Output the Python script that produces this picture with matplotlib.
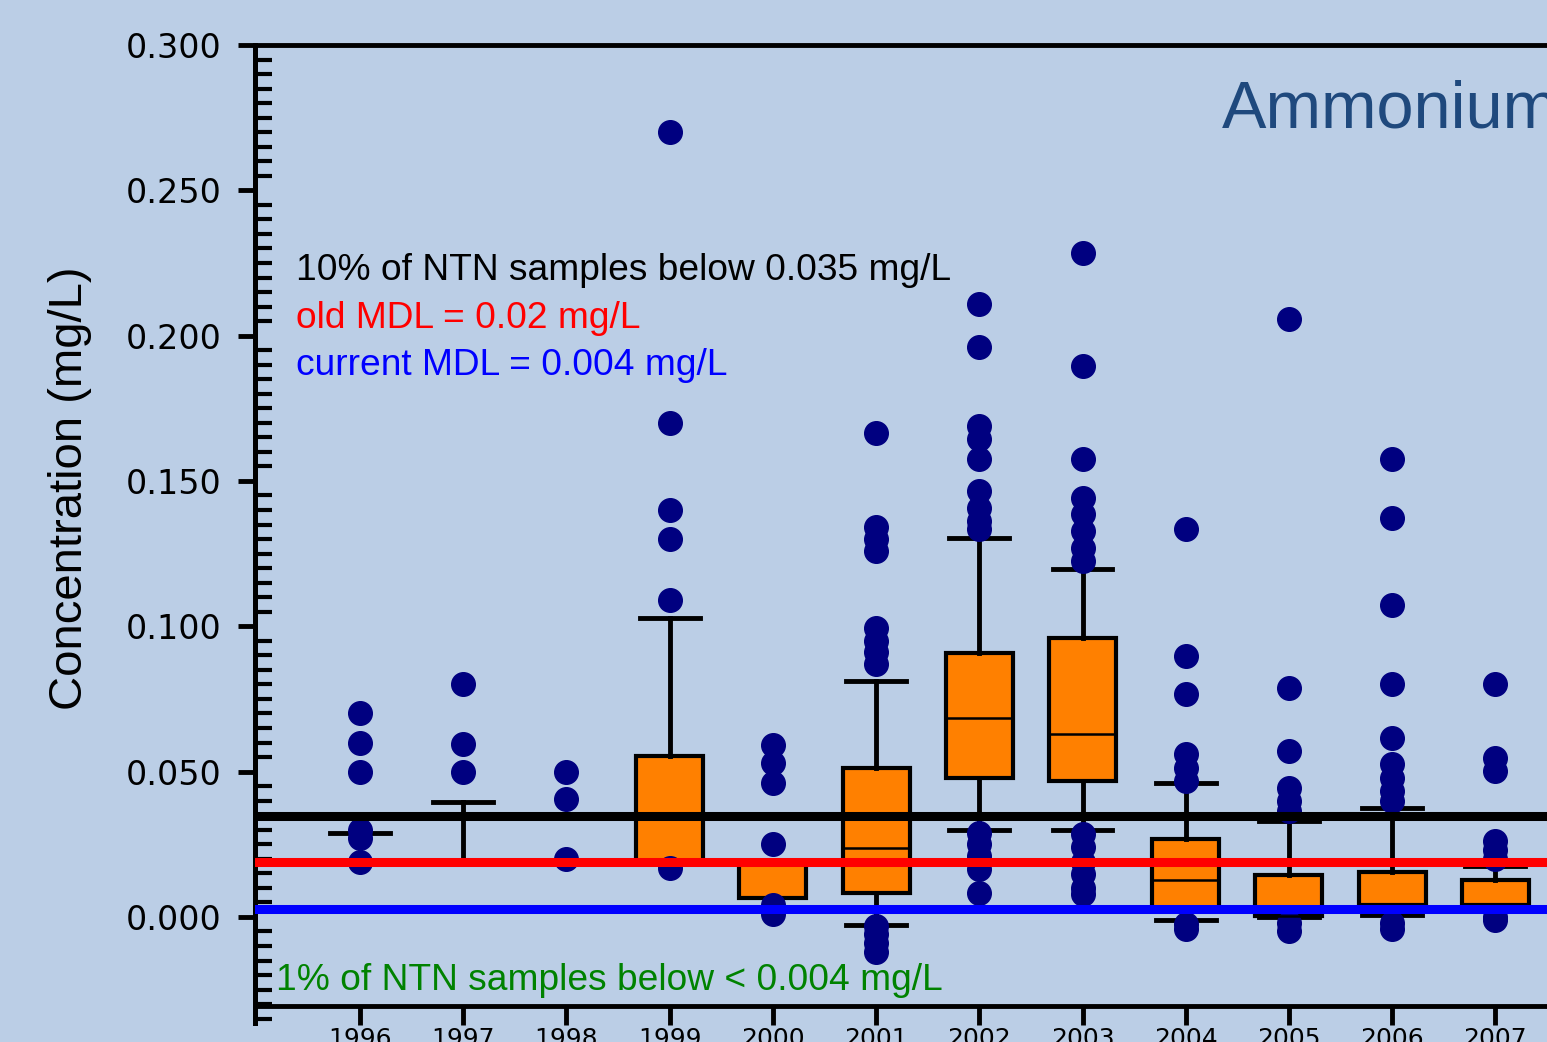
import matplotlib
matplotlib.use('Agg')
import matplotlib.pyplot as plt
from matplotlib.ticker import MultipleLocator, FormatStrFormatter


years = [1996, 1997, 1998, 1999, 2000, 2001, 2002, 2003, 2004, 2005, 2006, 2007]
q1 = [0.019, 0.019, 0.019, 0.019, 0.0065, 0.0083, 0.0478, 0.0468, 0.003, 0.0003, 0.004, 0.004]
med = [0.019, 0.019, 0.019, 0.019, 0.019, 0.0237, 0.0685, 0.063, 0.0127, 0.0003, 0.004, 0.004]
q3 = [0.019, 0.019, 0.019, 0.0554, 0.019, 0.0513, 0.0908, 0.096, 0.0268, 0.0145, 0.0155, 0.0127]
whislo = [0.019, 0.019, 0.019, 0.019, 0.003, -0.0028, 0.030, 0.030, -0.001, 0.0, 0.0007, 0.004]
whishi = [0.029, 0.0396, 0.019, 0.103, 0.019, 0.0812, 0.1304, 0.1198, 0.0461, 0.033, 0.0375, 0.0175]
outliers = [
    [0.070, 0.060, 0.050, 0.030, 0.027, 0.019],
    [0.080, 0.0596, 0.050],
    [0.050, 0.0405, 0.020],
    [0.270, 0.170, 0.140, 0.130, 0.109, 0.017],
    [0.059, 0.053, 0.046, 0.025, 0.004, 0.001],
    [0.1666, 0.134, 0.130, 0.126, 0.0995, 0.095, 0.091, 0.087, -0.003, -0.006, -0.009, -0.012],
    [0.211, 0.196, 0.169, 0.1645, 0.1576, 0.1466, 0.1407, 0.1363, 0.1335,
     0.029, 0.025, 0.021, 0.0165, 0.0083],
    [0.2285, 0.1896, 0.1576, 0.1442, 0.1387, 0.1328, 0.127, 0.1225,
     0.0286, 0.024, 0.019, 0.0148, 0.010, 0.008],
    [0.1335, 0.0898, 0.0767, 0.056, 0.0513, 0.0468, -0.0025, -0.004],
    [0.2058, 0.0788, 0.0571, 0.0444, 0.040, 0.0365, -0.002, -0.005],
    [0.1576, 0.1373, 0.1074, 0.080, 0.0616, 0.0526, 0.0478, 0.0434, 0.040, -0.002, -0.004],
    [0.080, 0.0547, 0.0502, 0.026, 0.023, 0.020, 0.0, -0.001],
]

ntn_10pct = 0.0346
old_mdl = 0.0188
current_mdl = 0.0028

BG = '#BBCEE6'
W, H = 1547, 1042


def main():
    fig = plt.figure(figsize=(W / 100, H / 100), dpi=100, facecolor=BG)
    ax = fig.add_axes([255 / W, 1 - 1023 / H, 1 - 255 / W, 978 / H])
    ax.set_facecolor(BG)

    stats = []
    for i in range(len(years)):
        stats.append(dict(med=med[i], q1=q1[i], q3=q3[i],
                          whislo=whislo[i], whishi=whishi[i], fliers=outliers[i]))

    ax.bxp(stats, positions=years, widths=0.65, capwidths=0.58, patch_artist=True,
           boxprops=dict(facecolor='#FF8000', edgecolor='black', linewidth=3),
           medianprops=dict(color='black', linewidth=1.8),
           whiskerprops=dict(color='black', linewidth=3.5),
           capprops=dict(color='black', linewidth=3.5),
           flierprops=dict(marker='o', markersize=17, markerfacecolor='#000080',
                           markeredgecolor='#000080', linestyle='none'))

    # reference lines on top of boxes and points
    ax.axhline(ntn_10pct, color='black', lw=6.5, zorder=6)
    ax.axhline(old_mdl, color='#FF0000', lw=6.5, zorder=6)
    ax.axhline(current_mdl, color='#0000FF', lw=6.5, zorder=6)

    ax.set_xlim(1994.983, 2007.5)
    ax.set_ylim(-0.0365, 0.300)
    ax.set_xticks(years)
    ax.set_xticklabels([str(y) for y in years], family='DejaVu Sans')
    ax.yaxis.set_major_locator(MultipleLocator(0.05))
    ax.yaxis.set_minor_locator(MultipleLocator(0.005))
    ax.yaxis.set_major_formatter(FormatStrFormatter('%.3f'))
    for lab in ax.get_yticklabels():
        lab.set_family('DejaVu Sans')

    ax.tick_params(axis='y', which='major', direction='out', length=12, width=3.5,
                   labelsize=24, pad=12)
    ax.tick_params(axis='y', which='minor', direction='in', length=12, width=3)
    ax.tick_params(axis='x', direction='out', length=14, width=3.5, labelsize=18, pad=1)

    ax.spines['right'].set_visible(False)
    ax.spines['left'].set_linewidth(3.6)
    ax.spines['top'].set_linewidth(3.5)
    ax.spines['bottom'].set_linewidth(3.5)
    ax.spines['bottom'].set_position(('data', -0.0306))

    # ------------------------------------------------------------------------------------------

    font = 'Liberation Sans'
    fig.text(70 / W, 1 - 488 / H, 'Concentration (mg/L)', rotation=90, fontsize=34,
             family=font, ha='center', va='center')
    fig.text(1222 / W, 1 - 128 / H, 'Ammonium', fontsize=48, color='#1F497D',
             family=font, va='baseline')
    fig.text(296 / W, 1 - 280 / H, '10% of NTN samples below 0.035 mg/L', fontsize=26.7,
             color='black', family=font, va='baseline')
    fig.text(296 / W, 1 - 328 / H, 'old MDL = 0.02 mg/L', fontsize=26.7,
             color='#FF0000', family=font, va='baseline')
    fig.text(296 / W, 1 - 375 / H, 'current MDL = 0.004 mg/L', fontsize=26.7,
             color='#0000FF', family=font, va='baseline')
    fig.text(276 / W, 1 - 990 / H, '1% of NTN samples below < 0.004 mg/L', fontsize=26.7,
             color='#008200', family=font, va='baseline')

    fig.savefig('out.png', dpi=100, facecolor=BG)


if __name__ == "__main__":
    main()
